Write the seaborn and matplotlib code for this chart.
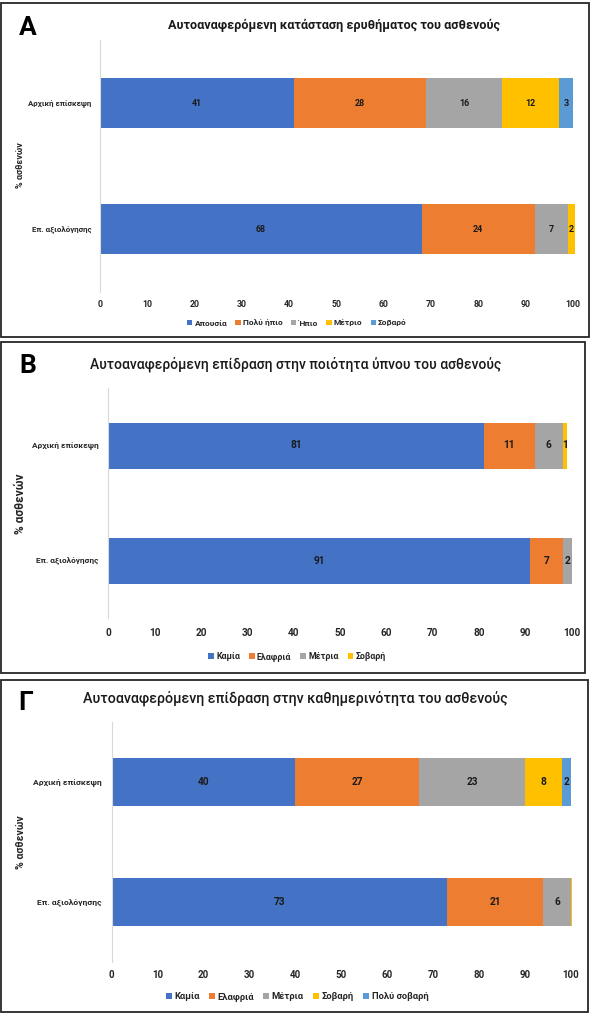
import numpy as np
import matplotlib
matplotlib.use("Agg")
import matplotlib.pyplot as plt
from matplotlib.patches import Patch, Rectangle
import seaborn as sns

# --- data ---
visits = ["Αρχική επίσκεψη", "Επ. αξιολόγησης"]

# A: erythema
levels_a = ["Απουσία", "Πολύ ήπιο", "Ήπιο", "Μέτριο", "Σοβαρό"]
first_a = [41, 28, 16, 12, 3]
eval_a = [68, 24, 7, 1.5, 0]

# B: sleep quality
levels_b = ["Καμία", "Ελαφριά", "Μέτρια", "Σοβαρή"]
first_b = [81, 11, 6, 1]
eval_b = [91, 7, 2, 0]

# Γ: daily life
levels_c = ["Καμία", "Ελαφριά", "Μέτρια", "Σοβαρή", "Πολύ σοβαρή"]
first_c = [40, 27, 23, 8, 2]
eval_c = [73, 21, 6, 0.3, 0]

titles = ["Αυτοαναφερόμενη κατάσταση ερυθήματος του ασθενούς",
          "Αυτοαναφερόμενη επίδραση στην ποιότητα ύπνου του ασθενούς",
          "Αυτοαναφερόμενη επίδραση στην καθημερινότητα του ασθενούς"]
letters = ["Α", "B", "Γ"]
colors = ["#4472C4", "#ED7D31", "#A5A5A5", "#FFC000", "#5B9BD5"]

sns.set_style("white")
plt.rcParams["font.family"] = ["Roboto", "DejaVu Sans"]

W, H = 591, 1014
fig = plt.figure(figsize=(W / 100, H / 100), dpi=100)


def fx(px):
    return px / W


def fy(py):
    return 1 - py / H


# pixel layout of each panel (box, axes, text positions)
panels = [
    dict(box=(1, 3, 589, 337), ax=(99.9, 40, 572.9, 292), title_xy=(334.5, 25), title_fs=9.1,
         title_w="bold", letter_xy=(28, 28), ylab_xy=(20.7, 165), ylab_fs=6.5, tick_fs=6.3,
         cat_fs=5.7, cat_pad=6.0, lab_fs=6.4, leg_xy=(297, 323), leg_fs=6.0, tick_y=304),
    dict(box=(1, 342, 585, 673), ax=(108.2, 388, 571.8, 618), title_xy=(295.5, 364), title_fs=10.0,
         title_w="medium", letter_xy=(28, 366), ylab_xy=(20.7, 504), ylab_fs=8.6, tick_fs=7.2,
         cat_fs=5.95, cat_pad=6.8, lab_fs=7.3, leg_xy=(297, 657), leg_fs=6.4, tick_y=633),
    dict(box=(1, 680, 588, 1012), ax=(111.6, 721.7, 571.0, 961.7), title_xy=(295.3, 698), title_fs=10.25,
         title_w="medium", letter_xy=(26, 703), ylab_xy=(20.7, 842), ylab_fs=7.6, tick_fs=7.0,
         cat_fs=6.1, cat_pad=7.1, lab_fs=7.3, leg_xy=(297, 997), leg_fs=6.75, tick_y=975),
]

datasets = [(levels_a, first_a, eval_a), (levels_b, first_b, eval_b), (levels_c, first_c, eval_c)]

for p, (levels, first, evals), title, letter in zip(panels, datasets, titles, letters):
    # panel frame
    x0, y0, x1, y1 = p["box"]
    fig.patches.append(Rectangle((fx(x0), fy(y1)), fx(x1 - x0), (y1 - y0) / H,
                                 transform=fig.transFigure, fill=False,
                                 edgecolor="#262626", linewidth=1.3))

    ax0, ay0, ax1, ay1 = p["ax"]
    ax = fig.add_axes([fx(ax0), fy(ay1), fx(ax1 - ax0), (ay1 - ay0) / H])

    vals = np.array([first, evals], dtype=float)  # rows = visits, cols = levels
    cum = np.cumsum(vals, axis=1)

    # draw cumulative bars from the last level to the first so they stack
    for j in range(len(levels) - 1, -1, -1):
        sns.barplot(x=cum[:, j], y=visits, orient="h", color=colors[j], saturation=1,
                    width=0.4, linewidth=0, errorbar=None, ax=ax)
    for patch in ax.patches:
        patch.set_clip_on(False)

    # segment labels
    for i in range(len(visits)):
        left = 0
        for j in range(len(levels)):
            v = vals[i, j]
            if v >= 0.5:
                ax.text(left + v / 2, i, f"{v:.0f}", ha="center", va="center",
                        fontsize=p["lab_fs"], fontweight="bold", color="#1a1a1a")
            left += v

    ax.set_xlim(0, 100)
    ax.set_ylim(1.5, -0.5)
    ax.set_xticks(range(0, 101, 10))
    ax.set_xlabel("")
    ax.set_ylabel("")
    for s in ["top", "right", "bottom"]:
        ax.spines[s].set_visible(False)
    ax.spines["left"].set_color("#d9d9d9")
    ax.spines["left"].set_linewidth(0.8)
    ax.tick_params(axis="both", length=0)
    ax.tick_params(axis="x", labelsize=p["tick_fs"], pad=(p["tick_y"] - ay1) * 0.72 - p["tick_fs"] * 0.5)
    ax.tick_params(axis="y", labelsize=p["cat_fs"], pad=p["cat_pad"])
    for t in ax.get_xticklabels() + ax.get_yticklabels():
        t.set_fontweight("bold")
        t.set_color("#262626")

    # titles, panel letter, y label
    fig.text(fx(p["title_xy"][0]), fy(p["title_xy"][1]), title, ha="center", va="center",
             fontsize=p["title_fs"], fontweight=p["title_w"], color="#1a1a1a")
    fig.text(fx(p["letter_xy"][0]), fy(p["letter_xy"][1]), letter, ha="center", va="center",
             fontsize=19, fontweight="bold", color="black")
    fig.text(fx(p["ylab_xy"][0]), fy(p["ylab_xy"][1]), "% ασθενών", ha="center", va="center",
             rotation=90, fontsize=p["ylab_fs"], fontweight="bold", color="#262626")

    handles = [Patch(facecolor=colors[j], edgecolor="none", label=lv) for j, lv in enumerate(levels)]
    fig.legend(handles=handles, loc="center", bbox_to_anchor=(fx(p["leg_xy"][0]), fy(p["leg_xy"][1])),
               ncol=len(levels), frameon=False, handlelength=0.65, handleheight=0.65,
               handletextpad=0.25, columnspacing=1.0,
               prop=dict(size=p["leg_fs"], weight="bold"), labelcolor="#262626")

fig.savefig("out.png", dpi=100)
